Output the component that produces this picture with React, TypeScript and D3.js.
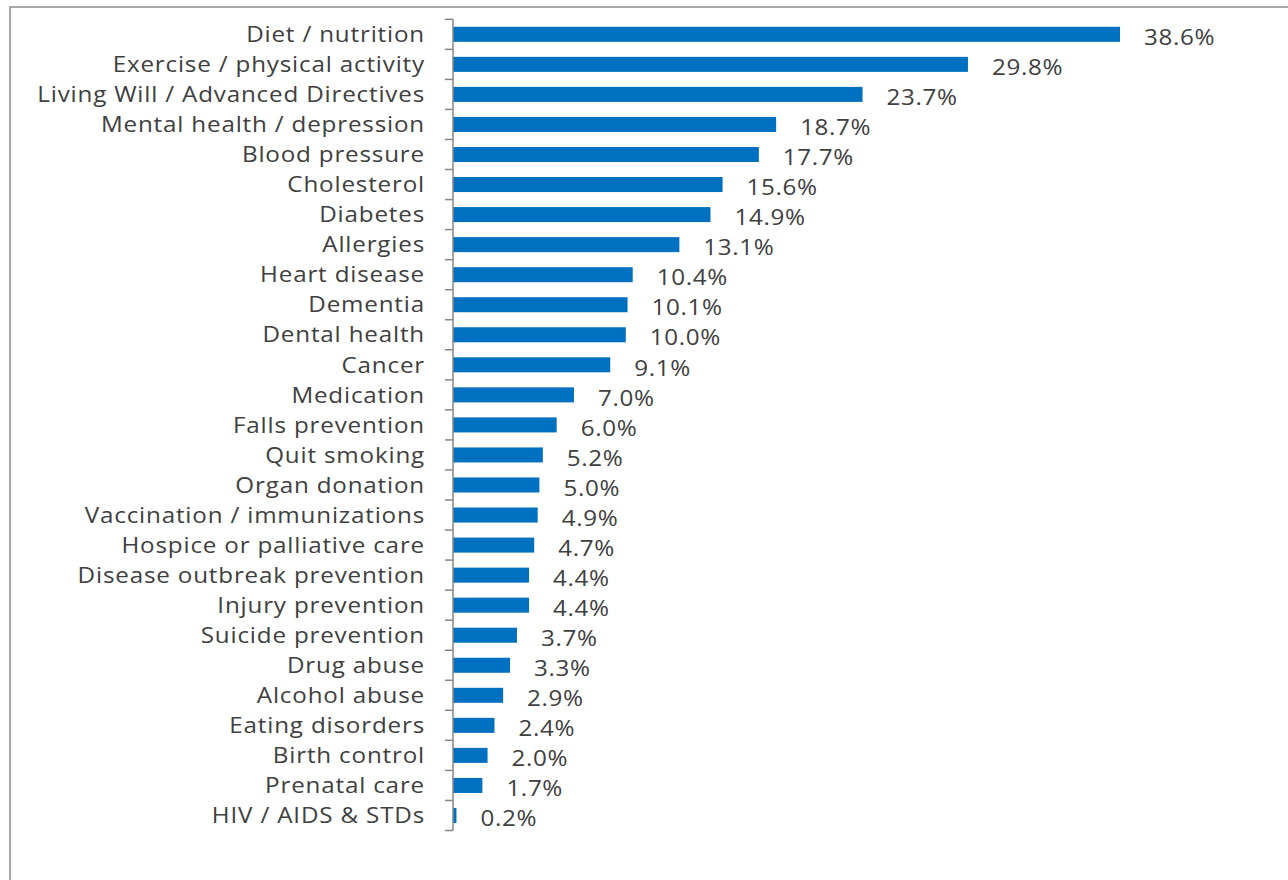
import React from "react";
import * as d3 from "d3";

const categories = [
  "Diet / nutrition",
  "Exercise / physical activity",
  "Living Will / Advanced Directives",
  "Mental health / depression",
  "Blood pressure",
  "Cholesterol",
  "Diabetes",
  "Allergies",
  "Heart disease",
  "Dementia",
  "Dental health",
  "Cancer",
  "Medication",
  "Falls prevention",
  "Quit smoking",
  "Organ donation",
  "Vaccination / immunizations",
  "Hospice or palliative care",
  "Disease outbreak prevention",
  "Injury prevention",
  "Suicide prevention",
  "Drug abuse",
  "Alcohol abuse",
  "Eating disorders",
  "Birth control",
  "Prenatal care",
  "HIV / AIDS & STDs",
];

const values = [
  38.6, 29.8, 23.7, 18.7, 17.7, 15.6, 14.9, 13.1, 10.4, 10.1, 10.0, 9.1, 7.0,
  6.0, 5.2, 5.0, 4.9, 4.7, 4.4, 4.4, 3.7, 3.3, 2.9, 2.4, 2.0, 1.7, 0.2,
];

const W = 1288;
const H = 880;
const axisX = 453;
const top = 19.3;
const bottom = 830.5;
const FONT = "'Open Sans', sans-serif";
const TEXT = "#404040";
const BAR = "#0070C0";
const AXIS = "#868686";
const SX = 1.1;

export default function App() {
  const y = d3
    .scaleBand<string>()
    .domain(categories)
    .range([top, bottom])
    .paddingInner(0.5)
    .paddingOuter(0.25);
  const yTicks = d3.scaleBand<string>().domain(categories).range([top, bottom]);
  const x = d3.scaleLinear().domain([0, 40]).range([axisX, axisX + 691.2]);

  const tickYs = [...categories.map((c) => yTicks(c)!), bottom];

  return (
    <svg
      width={W}
      height={H}
      style={{ position: "absolute", left: 0, top: 0, background: "#fff" }}
    >
      <rect x={10} y={7} width={W + 20} height={H + 20} fill="#fff" stroke="#8c8c8c" strokeWidth={1.5} />
      {categories.map((c, i) => (
        <g key={c}>
          <rect
            x={x(0)}
            y={y(c)!}
            width={Math.max(0, x(values[i]) - x(0))}
            height={y.bandwidth()}
            fill={BAR}
          />
          <text
            transform={`translate(${x(values[i]) + 24},${y(c)! + y.bandwidth() / 2 + 3}) scale(${SX},1)`}
            dy="0.35em"
            fontFamily={FONT}
            fontSize={22}
            letterSpacing={0.6}
            fill={TEXT}
          >
            {values[i].toFixed(1)}%
          </text>
          <text
            transform={`translate(425,${yTicks(c)! + yTicks.bandwidth() / 2}) scale(${SX},1)`}
            dy="0.35em"
            textAnchor="end"
            fontFamily={FONT}
            fontSize={22}
            letterSpacing={0.75}
            fill={TEXT}
          >
            {c}
          </text>
        </g>
      ))}
      <line x1={axisX} x2={axisX} y1={top} y2={bottom} stroke={AXIS} strokeWidth={1.5} />
      {tickYs.map((t, i) => (
        <line key={i} x1={axisX - 8} x2={axisX} y1={t} y2={t} stroke={AXIS} strokeWidth={1.5} />
      ))}
    </svg>
  );
}
